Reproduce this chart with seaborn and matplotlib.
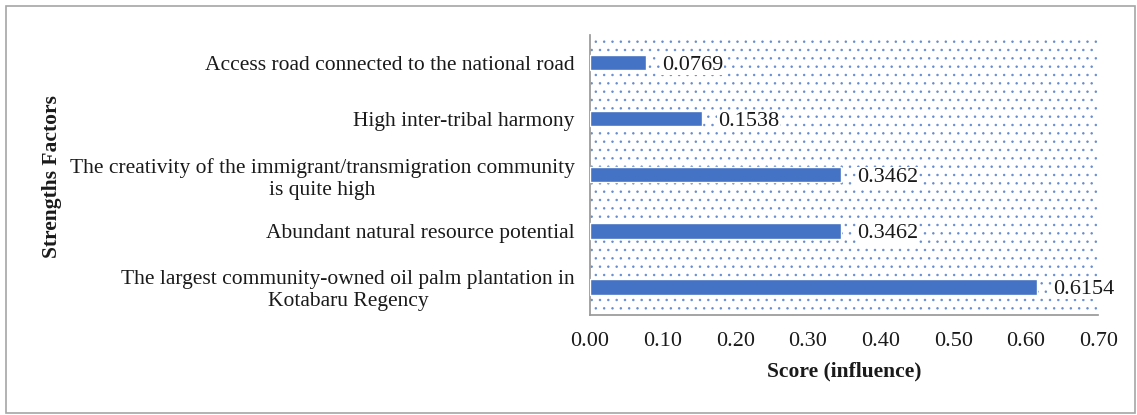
import matplotlib
matplotlib.use("Agg")
import matplotlib.pyplot as plt
import seaborn as sns
import pandas as pd
from matplotlib.patches import Rectangle

categories = [
    "Access road connected to the national road",
    "High inter-tribal harmony",
    "The creativity of the immigrant/transmigration community\nis quite high",
    "Abundant natural resource potential",
    "The largest community-owned oil palm plantation in\nKotabaru Regency",
]
scores = [0.0769, 0.1538, 0.3462, 0.3462, 0.6154]
value_labels = ["0.0769", "0.1538", "0.3462", "0.3462", "0.6154"]
xticks = [0.00, 0.10, 0.20, 0.30, 0.40, 0.50, 0.60, 0.70]

df = pd.DataFrame({"factor": categories, "score": scores})

sns.set_theme(style="white")
plt.rcParams['font.family'] = ['Liberation Serif', 'DejaVu Serif']
plt.rcParams['hatch.color'] = '#4472C4'
plt.rcParams['hatch.linewidth'] = 0.6

fig = plt.figure(figsize=(11.37, 4.15), dpi=100)
ax = fig.add_axes([0.519, 0.241, 0.447, 0.675])

# dotted background
ax.add_patch(Rectangle((0, 0), 1, 1, transform=ax.transAxes, facecolor='white',
                       edgecolor='#4472C4', hatch='..', linewidth=0, zorder=0, alpha=0.7))

sns.barplot(data=df, x="score", y="factor", color="#4472C4", width=0.27,
            saturation=1, ax=ax, zorder=3)

for i, (v, lab) in enumerate(zip(scores, value_labels)):
    ax.text(v + 0.022, i + 0.04, lab, va='center', ha='left', fontsize=16, color='#1a1a1a',
            zorder=4, bbox=dict(facecolor='white', edgecolor='none', pad=0.5))

ax.set_xlim(0, 0.70)
ax.set_xticks(xticks)
ax.set_xticklabels([f"{t:.2f}" for t in xticks], fontsize=16, color='#1a1a1a')
ax.tick_params(axis='x', direction='out', length=5, color='#999999', width=1, pad=7)
ax.tick_params(axis='y', length=0, labelsize=15.5, pad=11, labelcolor='#1a1a1a')
for lbl in ax.get_yticklabels():
    lbl.set_multialignment('center')

for s in ['top', 'right']:
    ax.spines[s].set_visible(False)
ax.spines['left'].set_color('#999999')
ax.spines['bottom'].set_color('#999999')

ax.set_xlabel("Score (influence)", fontsize=15.5, fontweight='bold', labelpad=8,
              color='#1a1a1a')
ax.set_ylabel("")
fig.text(0.046, 0.575, "Strengths Factors", rotation=90, fontsize=15.5,
         fontweight='bold', ha='center', va='center', color='#1a1a1a')

fig.patches.append(Rectangle((0.005, 0.006), 0.993, 0.98, transform=fig.transFigure,
                             facecolor='none', edgecolor='#a6a6a6', linewidth=1.2))

fig.savefig("out.png", dpi=100, facecolor='white')
